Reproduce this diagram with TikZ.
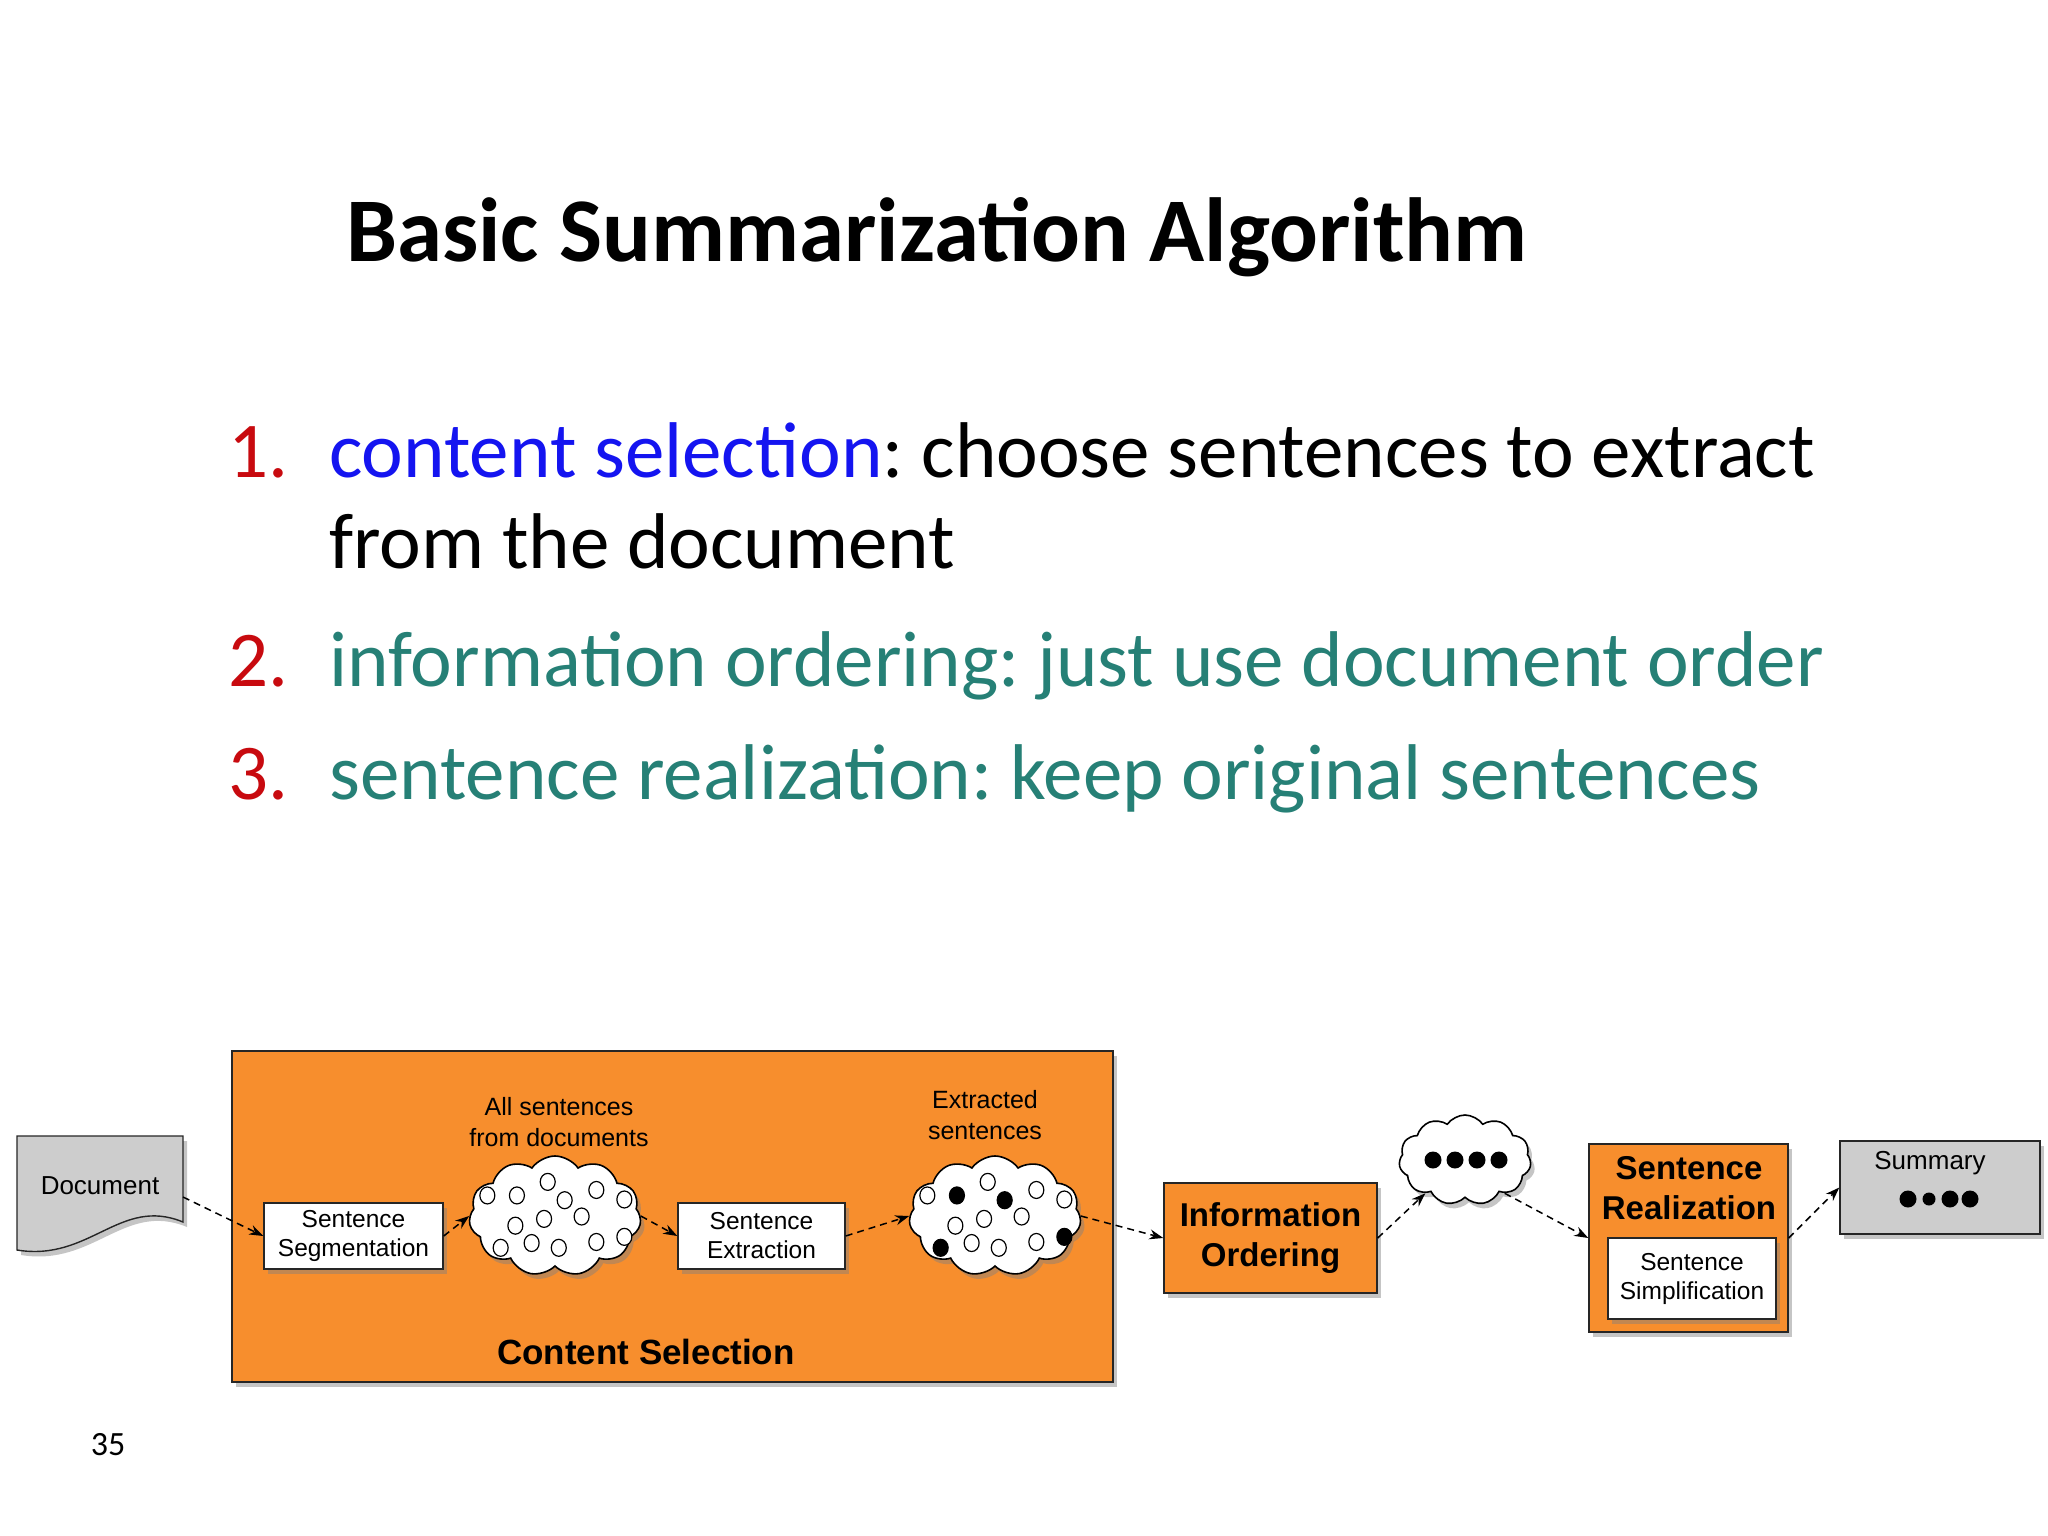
\documentclass[tikz,border=0pt]{standalone}
\usepackage{fontspec}
\setmainfont{Carlito}
\newfontfamily\hv{Liberation Sans}
\usetikzlibrary{shapes.symbols,shadows,arrows.meta}
\definecolor{orng}{RGB}{247,142,45}
\definecolor{teal2}{RGB}{38,128,118}
\definecolor{red2}{RGB}{200,10,15}
\definecolor{blue2}{RGB}{20,20,240}
\definecolor{gry}{RGB}{205,205,205}
\frenchspacing
\begin{document}
\begin{tikzpicture}[x=1pt,y=-1pt,
  shd/.style={drop shadow={shadow xshift=4pt,shadow yshift=-5pt,opacity=0.45}},
  box/.style={draw=black!85,line width=1.4pt,shd,inner sep=0pt,align=center},
  wbox/.style={box,fill=white,font=\hv\fontsize{24.5}{29}\selectfont},
  obox/.style={box,fill=orng,font=\hv\bfseries\fontsize{33}{40}\selectfont},
  cld/.style={cloud,cloud puffs=11,cloud puff arc=110,aspect=1.45,draw=black,line width=1.6pt,fill=white,shd,inner sep=0pt},
  lbl/.style={font=\hv\fontsize{25}{31}\selectfont,align=center},
  arr/.style={dashed,dash pattern=on 7pt off 5pt,line width=1.5pt,-{Stealth[length=14pt,width=10pt]}},
  li/.style={anchor=base west,font=\fontsize{79}{90}\selectfont}]
\useasboundingbox (0,0) rectangle (2048,1536);
\fill[white] (0,0) rectangle (2048,1536);
% title
\node[anchor=base west,inner sep=0pt,font=\bfseries\fontsize{91}{100}\selectfont] (title) at (346,261) {Basic Summarization Algorithm};
% list
\node[li,inner sep=0pt,text=red2] (n1) at (228,477) {1.};
\node[li,inner sep=0pt] (l1) at (329,477) {\textcolor{blue2}{content selection}: choose sentences to extract};
\node[li,inner sep=0pt] (l1b) at (329,568) {from the document};
\node[li,inner sep=0pt,text=red2] (n2) at (228,686) {2.};
\node[li,inner sep=0pt,text=teal2] (l2) at (329,686) {information ordering: just use document order};
\node[li,inner sep=0pt,text=red2] (n3) at (228,799) {3.};
\node[li,inner sep=0pt,text=teal2] (l3) at (329,799) {sentence realization: keep original sentences};
% content selection box
\node[box,fill=orng,minimum width=881pt,minimum height=331pt] (cs) at (672.5,1216.5) {};
\node[font=\hv\bfseries\fontsize{35}{40}\selectfont] (cslbl) at (646,1352) {Content Selection};
% document
\path[draw=black!85,line width=1.4pt,fill=gry,shd] (17,1136) -- (183,1136) -- (183,1222)
  .. controls (120,1196) and (90,1262) .. (17,1250) -- cycle;
\node[font=\hv\fontsize{26}{30}\selectfont] (doc) at (100,1186) {Document};
\coordinate (docR) at (183,1197);
% inner nodes
\node[wbox,minimum width=179pt,minimum height=66pt] (seg) at (353.5,1236) {Sentence\\Segmentation};
\node[wbox,minimum width=167pt,minimum height=66pt] (ext) at (761.5,1236) {Sentence\\Extraction};
\node[cld,minimum width=172pt,minimum height=120pt] (c1) at (555,1216) {};
\node[cld,minimum width=172pt,minimum height=120pt] (c2) at (995,1216) {};
\node[lbl] (l1t) at (559,1122) {All sentences\\from documents};
\node[lbl] (l2t) at (985,1115) {Extracted\\sentences};
% circles
\foreach \fx/\fy/\fa/\fb in {0.106/0.323/white/white,0.277/0.323/white/black,0.455/0.209/white/white,0.553/0.363/white/black,0.736/0.277/white/white,0.898/0.357/white/white,0.268/0.577/white/white,0.434/0.52/white/white,0.651/0.5/white/white,0.183/0.763/white/black,0.362/0.723/white/white,0.519/0.763/white/white,0.736/0.714/white/white,0.898/0.671/white/black}{
  \draw[line width=1.2pt,fill=\fa] (469+\fx*173,1157+\fy*119) ellipse (7.5pt and 8.5pt);
  \draw[line width=1.2pt,fill=\fb] (909+\fx*173,1157+\fy*119) ellipse (7.5pt and 8.5pt);
}
% right part
\node[obox,minimum width=213pt,minimum height=110pt] (io) at (1270.5,1238) {Information\\Ordering};
\node[cld,minimum width=132pt,minimum height=90pt] (c3) at (1465,1160) {};
\foreach \x in {1433,1455,1477,1499} \fill (\x,1160) circle (8.5pt);
\node[box,fill=orng,minimum width=199pt,minimum height=188pt] (sr) at (1688.5,1238) {};
\node[font=\hv\bfseries\fontsize{33}{40}\selectfont,align=center] (srl) at (1689,1188) {Sentence\\Realization};
\node[wbox,minimum width=168pt,minimum height=81pt] (simp) at (1692,1278.5) {Sentence\\Simplification};
\node[box,fill=gry,minimum width=200pt,minimum height=93pt] (sum) at (1940,1187.5) {};
\node[font=\hv\fontsize{26}{30}\selectfont] (suml) at (1930,1163) {Summary};
\foreach \x/\r in {1908/8.5,1929/6.5,1950/8.5,1970/8.5} \fill (\x,1199) circle (\r pt);
% arrows
\draw[arr] (docR) -- (seg.west);
\draw[arr] (seg.east) -- (c1.west);
\draw[arr] (c1.east) -- (ext.west);
\draw[arr] (ext.east) -- (c2.west);
\draw[arr] (c2.east) -- (io.west);
\draw[arr] (io.east) -- (c3.220);
\draw[arr] (c3.320) -- (sr.west);
\draw[arr] (sr.east) -- (sum.west);
\node[anchor=base,font=\fontsize{34}{36}\selectfont] (pg) at (108,1455) {35};
\end{tikzpicture}
\end{document}
